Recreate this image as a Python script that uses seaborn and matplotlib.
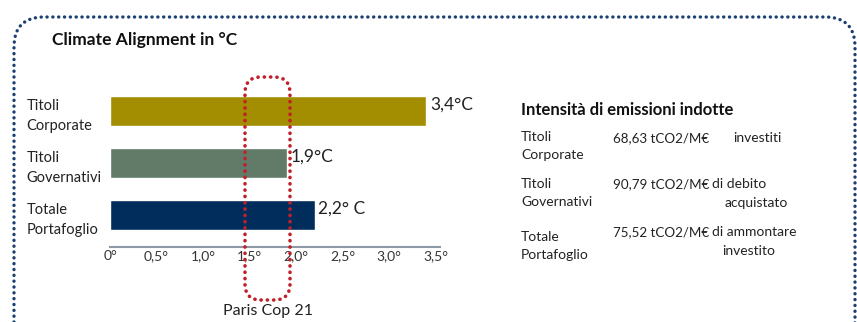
import matplotlib
matplotlib.use("Agg")
import matplotlib.pyplot as plt
import seaborn as sns
import pandas as pd
from matplotlib.patches import FancyBboxPatch

# Data
categories = ["Titoli\nCorporate", "Titoli\nGovernativi", "Totale\nPortafoglio"]
temperatures = [3.4, 1.9, 2.2]
temp_labels = ["3,4°C", "1,9°C", "2,2° C"]
bar_colors = ["#A38D00", "#627A68", "#002D5C"]
x_ticks = [0, 0.5, 1.0, 1.5, 2.0, 2.5, 3.0, 3.5]
x_tick_labels = ["0°", "0,5°", "1,0°", "1,5°", "2,0°", "2,5°", "3,0°", "3,5°"]

intensity_values = ["68,63", "90,79", "75,52"]
intensity_unit = "tCO2/M€"
intensity_notes = [("investiti", ""), ("di debito", "acquistato"), ("di ammontare", "investito")]

sns.set_theme(style="white")
plt.rcParams["font.family"] = ["Lato", "DejaVu Sans"]

df = pd.DataFrame({"categoria": categories, "temp": temperatures})

fig = plt.figure(figsize=(8.57, 3.22), dpi=100)
fig.patch.set_facecolor("white")
ax = fig.add_axes([0.1284, 0.2329, 0.3798, 0.5186])

sns.barplot(data=df, x="temp", y="categoria", hue="categoria", palette=bar_colors,
            orient="h", width=0.57, legend=False, saturation=1, ax=ax)

ax.set_xlim(0, 3.5)
ax.set_ylim(2.615, -0.6)
ax.set_xlabel("")
ax.set_ylabel("")
ax.set_xticks(x_ticks)
ax.set_xticklabels(x_tick_labels, fontsize=10, color="#333333")
ax.tick_params(axis="x", length=0, pad=2)
ax.tick_params(axis="y", length=0, pad=60)
for lab in ax.get_yticklabels():
    lab.set_horizontalalignment("left")
    lab.set_fontsize(10.5)
    lab.set_color("#222222")
    lab.set_linespacing(1.6)

for side in ["top", "right", "left"]:
    ax.spines[side].set_visible(False)
ax.spines["bottom"].set_color("#8C9AA8")
ax.spines["bottom"].set_linewidth(1.5)
ax.spines["bottom"].set_bounds(0, 3.55)

for i, (v, lab) in enumerate(zip(temperatures, temp_labels)):
    ax.text(v + 0.04, i - 0.12, lab, va="center", ha="left", fontsize=12.5,
            color="#222222")

# red dotted Paris range frame
red_box = FancyBboxPatch((2.45, 0.22), 0.45, 2.23,
                         boxstyle="round,pad=0,rounding_size=0.16",
                         transform=fig.dpi_scale_trans, fill=False,
                         edgecolor="#C0202A", linewidth=2.6,
                         linestyle=(0, (0.05, 1.7)), clip_on=False)
red_box.set_capstyle("round")
fig.add_artist(red_box)
fig.text(2.68 / 8.57, 0.11 / 3.22, "Paris Cop 21", ha="center", va="center",
         fontsize=11.5, color="#222222")

# blue dotted outer frame
outer = FancyBboxPatch((0.14, -0.6), 8.41, 3.65,
                       boxstyle="round,pad=0,rounding_size=0.3",
                       transform=fig.dpi_scale_trans, fill=False,
                       edgecolor="#1B3F6E", linewidth=2.4,
                       linestyle=(0, (0.05, 1.7)), clip_on=False)
outer.set_capstyle("round")
fig.add_artist(outer)

fig.text(52 / 857, 1 - 40 / 322, "Climate Alignment in °C", ha="left", va="center",
         fontsize=12.5, fontweight="bold", color="#111111")

# right panel: emission intensity
fig.text(521 / 857, 1 - 110 / 322, "Intensità di emissioni indotte", ha="left",
         va="center", fontsize=12, fontweight="bold", color="#111111")
row_y = [146, 193, 246]
val_y = [138, 184, 232]
note_x = [733, 712, 712]
note2_x = [733, 725, 722]
for k, cat in enumerate(categories):
    fig.text(521 / 857, 1 - row_y[k] / 322, cat, ha="left", va="center", fontsize=10,
             color="#222222", linespacing=1.65)
    fig.text(613 / 857, 1 - val_y[k] / 322, f"{intensity_values[k]} {intensity_unit}",
             ha="left", va="center", fontsize=9.6, color="#222222")
    first, second = intensity_notes[k]
    fig.text(note_x[k] / 857, 1 - val_y[k] / 322, first, ha="left", va="center",
             fontsize=10, color="#222222")
    if second:
        fig.text(note2_x[k] / 857, 1 - (val_y[k] + 19) / 322, second, ha="left",
                 va="center", fontsize=10, color="#222222")

fig.savefig("out.png", dpi=100)
